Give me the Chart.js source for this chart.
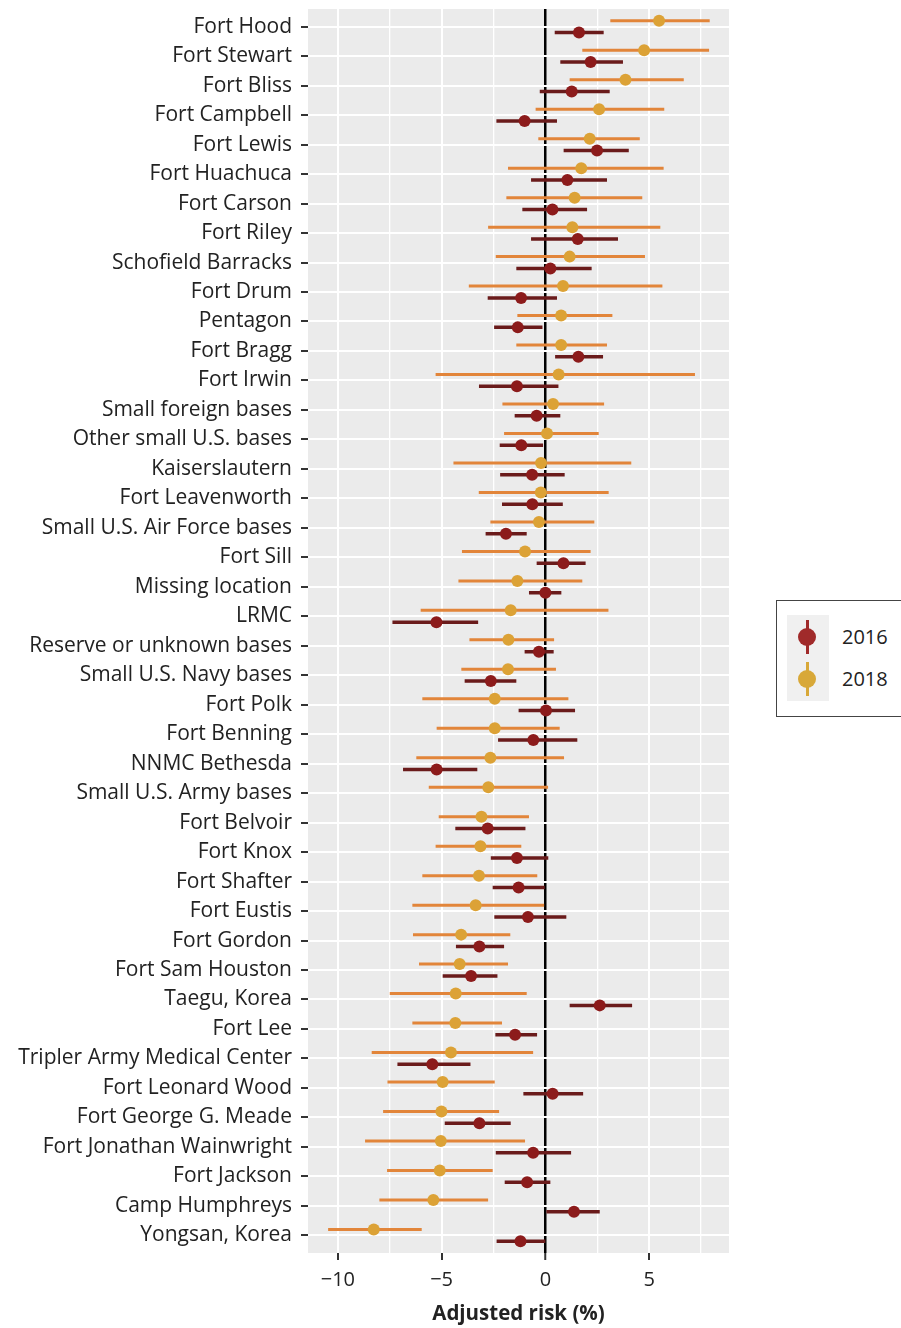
<!DOCTYPE html>
<html>
<head>
<meta charset="utf-8">
<script src="https://cdn.jsdelivr.net/npm/chart.js@4/dist/chart.umd.min.js"></script>
<style>
  body { margin: 0; background: #fff; font-family: "Open Sans", sans-serif; }
  #wrap { position: absolute; left: 0; top: 0; width: 760px; height: 1328px; }
  #legend { position: absolute; left: 776px; top: 600px; width: 140px; height: 117px; border: 1px solid #444; box-sizing: border-box; }
  #legend .keys { position: absolute; left: 10px; top: 14px; width: 42px; height: 86px; background: #f0f0f0; }
  #legend .item { position: absolute; left: 0; width: 42px; height: 42px; }
  #legend .stem { position: absolute; left: 19px; top: 4px; width: 3px; height: 34px; }
  #legend .dot { position: absolute; left: 11px; top: 12px; width: 18px; height: 18px; border-radius: 50%; }
  #legend .lab { position: absolute; left: 65px; font-size: 20px; color: #222; line-height: 24px; }
</style>
</head>
<body>
<div id="wrap"><canvas id="grafico" width="760" height="1328"></canvas></div>
<div id="legend"></div>
<script>
// categorias (de cima para baixo)
const categorias = [
  'Fort Hood', 'Fort Stewart', 'Fort Bliss', 'Fort Campbell', 'Fort Lewis', 'Fort Huachuca',
  'Fort Carson', 'Fort Riley', 'Schofield Barracks', 'Fort Drum', 'Pentagon', 'Fort Bragg',
  'Fort Irwin', 'Small foreign bases', 'Other small U.S. bases', 'Kaiserslautern',
  'Fort Leavenworth', 'Small U.S. Air Force bases', 'Fort Sill', 'Missing location', 'LRMC',
  'Reserve or unknown bases', 'Small U.S. Navy bases', 'Fort Polk', 'Fort Benning',
  'NNMC Bethesda', 'Small U.S. Army bases', 'Fort Belvoir', 'Fort Knox', 'Fort Shafter',
  'Fort Eustis', 'Fort Gordon', 'Fort Sam Houston', 'Taegu, Korea', 'Fort Lee',
  'Tripler Army Medical Center', 'Fort Leonard Wood', 'Fort George G. Meade',
  'Fort Jonathan Wainwright', 'Fort Jackson', 'Camp Humphreys', 'Yongsan, Korea'
];

// 2018
const est2018 = [5.48, 4.76, 3.86, 2.59, 2.14, 1.73, 1.41, 1.30, 1.17, 0.85, 0.76, 0.76, 0.64, 0.37,
  0.08, -0.21, -0.22, -0.31, -0.98, -1.35, -1.67, -1.78, -1.80, -2.44, -2.44, -2.65, -2.75, -3.08,
  -3.13, -3.20, -3.36, -4.06, -4.13, -4.32, -4.34, -4.55, -4.95, -5.01, -5.04, -5.09, -5.40, -8.27];
const lo2018 = [3.13, 1.78, 1.17, -0.47, -0.34, -1.80, -1.88, -2.76, -2.39, -3.69, -1.35, -1.40, -5.29, -2.07,
  -1.99, -4.43, -3.21, -2.65, -4.02, -4.19, -6.01, -3.66, -4.05, -5.93, -5.24, -6.22, -5.62, -5.14,
  -5.29, -5.93, -6.41, -6.38, -6.09, -7.50, -6.41, -8.37, -7.61, -7.82, -8.69, -7.63, -8.00, -10.47];
const hi2018 = [7.92, 7.89, 6.67, 5.73, 4.55, 5.70, 4.67, 5.54, 4.80, 5.64, 3.23, 2.97, 7.21, 2.83,
  2.57, 4.14, 3.05, 2.36, 2.18, 1.78, 3.04, 0.42, 0.51, 1.11, 0.69, 0.90, 0.13, -0.79,
  -1.16, -0.39, -0.06, -1.69, -1.80, -0.90, -2.09, -0.59, -2.44, -2.23, -0.98, -2.54, -2.76, -5.96];

// 2016 (sem dado para Small U.S. Army bases)
const est2016 = [1.62, 2.18, 1.27, -1.00, 2.49, 1.06, 0.34, 1.56, 0.24, -1.17, -1.33, 1.59, -1.37, -0.42,
  -1.16, -0.64, -0.63, -1.90, 0.87, 0.00, -5.25, -0.31, -2.63, 0.03, -0.58, -5.24, null, -2.78,
  -1.37, -1.29, -0.84, -3.18, -3.58, 2.62, -1.46, -5.45, 0.35, -3.18, -0.59, -0.88, 1.38, -1.20];
const lo2016 = [0.45, 0.72, -0.27, -2.36, 0.88, -0.69, -1.11, -0.69, -1.40, -2.78, -2.47, 0.47, -3.20, -1.48,
  -2.20, -2.18, -2.09, -2.88, -0.42, -0.79, -7.37, -1.00, -3.89, -1.29, -2.28, -6.86, null, -4.34,
  -2.63, -2.54, -2.46, -4.31, -4.95, 1.17, -2.41, -7.13, -1.06, -4.85, -2.39, -1.96, 0.05, -2.35];
const hi2016 = [2.81, 3.74, 3.10, 0.56, 4.02, 2.97, 2.01, 3.50, 2.23, 0.56, -0.14, 2.78, 0.63, 0.72,
  -0.11, 0.93, 0.84, -0.90, 1.94, 0.77, -3.24, 0.40, -1.40, 1.43, 1.54, -3.28, null, -0.96,
  0.14, -0.03, 1.01, -1.99, -2.31, 4.18, -0.40, -3.61, 1.82, -1.67, 1.24, 0.24, 2.62, 0.00];

const xMaiores = [-10, -5, 0, 5];
const xMenores = [-7.5, -2.5, 2.5, 7.5];

const cores = {
  p2016: '#8c1b1b', l2016: '#6a1b1b',
  p2018: '#dca236', l2018: '#e2853a'
};
const legendaItens = [
  { nome: '2016', cor: '#a02a2a' },
  { nome: '2018', cor: '#d8a838' }
];

const desloc = 0.2;

/** segmentos de intervalo separados por pontos nulos */
function segmentos(lo, hi, ajuste) {
  const out = [];
  lo.forEach((v, i) => {
    if (v === null) return;
    out.push({ x: v, y: i + 1 + ajuste }, { x: hi[i], y: i + 1 + ajuste }, { x: null, y: null });
  });
  return out;
}
function pontos(est, ajuste) {
  return est.map((v, i) => v === null ? null : { x: v, y: i + 1 + ajuste }).filter(p => p);
}

function formatarX(v) {
  if (v % 5 !== 0) return '';
  return v < 0 ? '\u2212' + Math.abs(v) : String(v);
}

const painel = {
  id: 'painel',
  beforeDraw(chart) {
    const a = chart.chartArea, c = chart.ctx;
    c.save();
    c.fillStyle = '#ebebeb';
    c.fillRect(a.left, a.top, a.right - a.left, a.bottom - a.top);
    c.restore();
  }
};

const grafico = new Chart(document.getElementById('grafico').getContext('2d'), {
  type: 'scatter',
  data: {
    datasets: [
      { label: 'ic2018', type: 'line', data: segmentos(lo2018, hi2018, -desloc), borderColor: cores.l2018, borderWidth: 3, pointRadius: 0, spanGaps: false, order: 4 },
      { label: 'ic2016', type: 'line', data: segmentos(lo2016, hi2016, desloc), borderColor: cores.l2016, borderWidth: 3.5, pointRadius: 0, spanGaps: false, order: 3 },
      { label: '2018', data: pontos(est2018, -desloc), backgroundColor: cores.p2018, borderColor: cores.p2018, pointRadius: 6, borderWidth: 0, order: 2 },
      { label: '2016', data: pontos(est2016, desloc), backgroundColor: cores.p2016, borderColor: cores.p2016, pointRadius: 6, borderWidth: 0, order: 1 }
    ]
  },
  options: {
    responsive: false,
    animation: false,
    layout: { padding: { left: 0, right: 31, top: 9, bottom: 0 } },
    plugins: { legend: { display: false }, tooltip: { enabled: false } },
    scales: {
      x: {
        type: 'linear', min: -11.44, max: 8.85,
        afterBuildTicks: s => { s.ticks = [...xMaiores, ...xMenores].sort((a, b) => a - b).map(v => ({ value: v })); },
        afterFit: s => { s.height = 75; s.paddingLeft = 0; s.paddingRight = 0; },
        border: { display: false },
        grid: {
          color: ctx => ctx.tick && ctx.tick.value === 0 ? '#000' : '#fff',
          lineWidth: ctx => ctx.tick && ctx.tick.value === 0 ? 2.5 : (ctx.tick && ctx.tick.value % 5 === 0 ? 2 : 1.3),
          tickColor: ctx => ctx.tick && ctx.tick.value % 5 === 0 ? '#333' : 'rgba(0,0,0,0)',
          tickLength: 7, tickWidth: 2, drawTicks: true
        },
        ticks: { callback: formatarX, autoSkip: false, maxRotation: 0, padding: 8, color: '#222', font: { family: 'Open Sans', size: 20 } },
        title: { display: true, text: 'Adjusted risk (%)', color: '#222', font: { family: 'Open Sans', size: 20.5, weight: 'bold', lineHeight: 1.2 }, padding: { top: 0, bottom: 2 } }
      },
      y: {
        type: 'linear', min: 0.4, max: 42.6, reverse: true,
        afterBuildTicks: s => { s.ticks = categorias.map((c, i) => ({ value: i + 1 })); },
        afterFit: s => { s.width = 308; s.paddingTop = 0; s.paddingBottom = 0; },
        border: { display: false },
        grid: { color: '#fff', lineWidth: 2, tickColor: '#333', tickLength: 7, tickWidth: 2 },
        ticks: { callback: v => categorias[v - 1], autoSkip: false, padding: 9, color: '#222', font: { family: 'Open Sans', size: 21 } }
      }
    }
  },
  plugins: [painel]
});

// legenda em HTML
const leg = document.getElementById('legend');
const keys = document.createElement('div');
keys.className = 'keys';
leg.appendChild(keys);
legendaItens.forEach((it, i) => {
  const item = document.createElement('div');
  item.className = 'item';
  item.style.top = (i * 42 + 1) + 'px';
  item.innerHTML = `<div class="stem" style="background:${it.cor}"></div><div class="dot" style="background:${it.cor}"></div>`;
  keys.appendChild(item);
  const lab = document.createElement('div');
  lab.className = 'lab';
  lab.style.top = (14 + i * 42 + 10) + 'px';
  lab.textContent = it.nome;
  leg.appendChild(lab);
});
</script>
</body>
</html>
